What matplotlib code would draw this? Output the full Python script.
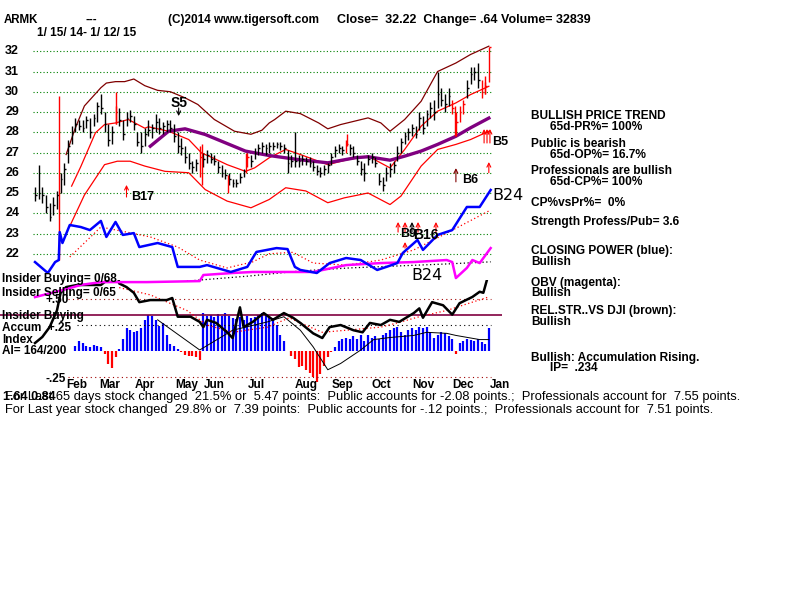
import numpy as np
import matplotlib.pyplot as plt

# ARMK daily chart 1/15/14 - 1/12/15, one bar every 2 trading days
bar_high = [25.3, 26.4, 25.3, 24.9, 24.5, 24.8, 25.1, 26.0, 26.5, 27.6,
            28.3, 28.7, 28.6, 28.6, 28.8, 28.7, 28.9, 29.5, 29.9, 29.0,
            28.4, 28.3, 29.3, 29.2, 28.6, 29.0, 29.1, 28.8, 28.0, 28.0,
            28.2, 28.6, 28.4, 28.9, 28.7, 28.5, 28.6, 28.6, 28.4, 28.0,
            27.7, 27.3, 27.0, 26.6, 26.7, 27.3, 27.0, 27.1, 27.0, 26.9,
            26.6, 26.4, 26.2, 26.0, 25.7, 25.7, 26.0, 26.2, 27.0, 26.9,
            27.2, 27.4, 27.5, 27.4, 27.5, 27.5, 27.5, 27.5, 27.4, 27.1,
            26.9, 28.0, 26.9, 26.9, 26.8, 26.8, 26.6, 26.4, 26.3, 26.4,
            26.5, 27.0, 27.3, 27.4, 27.3, 27.6, 27.4, 27.3, 26.9, 26.6,
            26.5, 26.9, 27.0, 26.8, 26.0, 25.8, 26.3, 26.5, 26.6, 27.3,
            27.7, 28.0, 28.2, 28.4, 28.3, 29.0, 28.8, 29.1, 29.5, 29.6,
            31.0, 30.2, 29.9, 30.2, 29.6, 29.0, 29.3, 29.6, 30.6, 31.2,
            31.2, 31.4, 30.6, 30.5, 32.2]
bar_low = [24.6, 24.7, 24.5, 24.0, 23.6, 23.9, 24.2, 25.0, 25.4, 26.5,
           27.4, 28.0, 28.1, 28.0, 28.2, 27.7, 28.3, 28.5, 28.9, 28.0,
           27.3, 27.4, 28.4, 28.3, 27.6, 28.3, 28.5, 28.1, 27.3, 27.0,
           27.3, 27.8, 27.7, 28.0, 27.9, 27.9, 28.0, 28.0, 27.5, 27.0,
           26.9, 26.5, 26.2, 26.0, 26.1, 25.8, 26.3, 26.5, 26.5, 26.4,
           26.0, 25.8, 25.7, 25.4, 25.3, 25.3, 25.5, 25.8, 26.3, 26.3,
           26.7, 26.9, 27.0, 26.9, 27.0, 27.1, 27.2, 27.1, 27.0, 26.0,
           26.3, 26.3, 26.3, 26.4, 26.4, 26.3, 26.1, 25.9, 25.8, 25.9,
           26.0, 26.4, 26.8, 27.0, 26.9, 27.0, 26.9, 26.8, 26.4, 25.9,
           25.6, 26.4, 26.5, 26.3, 25.4, 25.1, 25.6, 25.8, 26.0, 26.6,
           27.0, 27.4, 27.6, 27.8, 27.7, 28.1, 27.9, 28.3, 28.7, 28.6,
           29.2, 29.3, 29.0, 29.3, 28.9, 27.8, 28.5, 28.9, 29.7, 30.4,
           30.6, 30.2, 29.7, 29.9, 30.5]
bar_close = [24.9, 25.0, 24.9, 24.3, 23.8, 24.4, 24.9, 25.7, 26.2, 27.3,
             28.0, 28.4, 28.3, 28.2, 28.6, 28.0, 28.7, 29.3, 29.2, 28.4,
             27.6, 28.0, 29.0, 28.6, 27.9, 28.7, 28.8, 28.4, 27.5, 27.3,
             27.9, 28.1, 28.2, 28.5, 28.2, 28.3, 28.4, 28.2, 27.8, 27.3,
             27.2, 26.8, 26.5, 26.3, 26.5, 26.8, 26.7, 26.9, 26.7, 26.6,
             26.3, 26.0, 25.9, 25.7, 25.5, 25.5, 25.8, 26.1, 26.8, 26.6,
             27.0, 27.2, 27.3, 27.2, 27.3, 27.3, 27.4, 27.3, 27.2, 26.5,
             26.6, 26.6, 26.6, 26.7, 26.6, 26.5, 26.3, 26.1, 26.0, 26.2,
             26.4, 26.8, 27.1, 27.2, 27.1, 27.4, 27.2, 27.0, 26.6, 26.2,
             26.0, 26.7, 26.8, 26.5, 25.6, 25.4, 26.0, 26.2, 26.4, 27.0,
             27.5, 27.8, 28.0, 28.2, 27.9, 28.7, 28.2, 28.9, 29.2, 29.0,
             29.9, 29.6, 29.4, 29.8, 29.2, 28.5, 29.0, 29.4, 30.2, 30.9,
             31.0, 30.6, 30.0, 30.3, 32.2]
red_bars = [22, 45, 58, 85, 114, 115, 116, 117, 122, 123, 124]

# red spike days (trading day, low, high)
spike_day = [13, 44.5, 91.5, 105.5, 115.5, 170.5, 229.5, 246]
spike_low = [21.7, 28.4, 25.4, 25.0, 26.0, 27.3, 27.8, 29.9]
spike_high = [29.8, 30.0, 27.4, 25.9, 27.0, 27.9, 29.3, 30.8]

# bands and moving averages (trading day, price)
upper_day = [17, 22, 27, 33, 36, 39, 44, 49, 54, 60, 67, 74, 82, 89, 98, 109, 118,
             124, 128, 131, 137, 145, 155, 160, 167, 182, 189, 194, 202, 211,
             220, 230, 238, 248]
upper_val = [26.9, 28.2, 29.3, 29.9, 30.2, 30.43, 30.5, 30.5, 30.63, 30.3, 30.07,
             30.0, 29.7, 29.37, 28.63, 28.05, 27.9, 28.1, 28.46, 28.63, 29.04,
             28.92, 28.46, 28.17, 28.38, 28.71, 28.46, 28.05, 28.63, 29.53, 31.0,
             31.42, 31.84, 32.25]
mid_day = [20, 25, 33, 38, 44, 51, 60, 62, 73, 84, 91, 98, 105, 115, 120, 128, 137,
           145, 160, 171, 182, 194, 202, 211, 220, 230, 238, 248]
mid_val = [25.34, 26.3, 27.97, 28.38, 28.46, 28.63, 28.2, 28.27, 28.05, 27.64,
           26.98, 26.7, 26.4, 26.07, 26.24, 26.74, 27.15, 26.9, 26.4, 26.65, 26.82,
           26.24, 27.15, 28.3, 29.04, 29.45, 29.86, 30.27]
lower_day = [19, 27, 38, 45, 52, 60, 71, 84, 93, 105, 118, 128, 137, 148, 160, 169,
             182, 194, 200, 211, 220, 230, 238, 248]
lower_val = [23.36, 24.9, 26.4, 26.57, 26.57, 26.33, 26.07, 26.0, 25.17, 24.6,
             24.27, 24.68, 25.26, 25.1, 24.52, 24.76, 25.0, 24.43, 24.85, 26.33,
             27.15, 27.4, 27.64, 28.05]
ma65_day = [63, 73, 82, 93, 104, 115, 128, 144, 160, 175, 182, 194, 202, 211, 220,
            230, 238, 248]
ma65_val = [27.31, 28.05, 28.17, 27.89, 27.48, 27.07, 26.85, 26.65, 26.49, 26.74,
            26.79, 26.62, 26.82, 27.07, 27.4, 27.8, 28.22, 28.7]

# closing power (blue) and OBV (magenta), drawn on the price scale
cp_day = [0, 7, 11, 13, 13.5, 15, 19, 25, 30, 36, 39, 44, 48, 54, 57, 67, 75, 78,
          90, 94, 107, 116, 121, 132, 138, 142, 145, 154, 161, 170, 178, 187, 192,
          198, 201, 209, 212, 220, 228, 236, 243, 249]
cp_val = [21.59, 21.05, 21.59, 21.69, 23.07, 22.53, 23.42, 23.32, 23.17, 23.62,
          22.83, 23.57, 22.93, 23.02, 22.33, 22.53, 22.33, 21.35, 21.35, 21.44,
          21.10, 21.35, 22.09, 22.28, 22.23, 21.35, 21.2, 21.05, 21.54, 21.79,
          21.69, 21.2, 21.35, 21.54, 22.04, 22.68, 22.19, 22.93, 23.17, 24.31,
          24.31, 25.15]
cp_ma_day = [19, 36, 50, 63, 78, 90, 105, 119, 128, 141, 152, 170, 189, 207, 225, 249]
cp_ma_val = [21.84, 23.32, 23.07, 22.83, 22.33, 21.69, 21.30, 21.6, 22.0, 22.07,
             21.54, 21.44, 21.69, 22.19, 23.02, 24.16]
obv_day = [0, 17, 25, 36, 50, 61, 90, 92, 108, 119, 145, 152, 170, 189, 207, 225,
           228, 230, 236, 239, 243, 249]
obv_val = [19.86, 20.25, 20.46, 20.6, 20.6, 20.6, 20.65, 20.95, 21.05, 21.1, 21.1,
           21.1, 21.44, 21.54, 21.59, 21.69, 21.59, 20.8, 21.3, 21.69, 21.54, 22.28]
obv_ma_day = [83, 117, 145, 172, 199, 226, 249]
obv_ma_val = [20.65, 20.9, 21.15, 21.3, 21.4, 21.5, 21.6]

# accumulation index, one value per bar (nan before it starts)
accum = [np.nan] * 10 + [
    0.0, 0.05, 0.1, 0.08, 0.05, 0.04, 0.06, 0.05, 0.04, -0.03,
    -0.12, -0.16, -0.06, 0.02, 0.12, 0.22, 0.2, 0.18, 0.19, 0.22,
    0.3, 0.35, 0.34, 0.3, 0.24, 0.27, 0.15, 0.07, 0.05, 0.02,
    -0.01, -0.04, -0.05, -0.05, -0.06, -0.09, 0.37, 0.34, 0.35, 0.33,
    0.36, 0.34, 0.37, 0.34, 0.32, 0.31, 0.33, 0.3, 0.34, 0.32,
    0.33, 0.35, 0.37, 0.34, 0.33, 0.32, 0.25, 0.15, 0.1, 0.0,
    -0.05, -0.08, -0.15, -0.14, -0.18, -0.21, -0.25, -0.3, -0.22, -0.14,
    -0.06, -0.01, 0.04, 0.1, 0.12, 0.13, 0.12, 0.14, 0.12, 0.15,
    0.1, 0.15, 0.13, 0.14, 0.12, 0.15, 0.17, 0.2, 0.22, 0.23,
    0.18, 0.15, 0.2, 0.22, 0.2, 0.23, 0.22, 0.23, 0.18, 0.13,
    0.15, 0.18, 0.17, 0.14, 0.12, -0.03, 0.08, 0.1, 0.12, 0.11,
    0.1, 0.12, 0.09, 0.07, 0.22]
acc_ma_day = [67, 90, 108, 127, 136, 145, 152, 160, 167, 178, 185, 194, 207, 214,
              225, 230, 243, 248]
acc_ma_val = [0.3, 0.01, 0.2, 0.28, 0.33, 0.2, 0.04, -0.18, -0.12, 0.01, 0.11,
              0.13, 0.15, 0.18, 0.17, 0.15, 0.11, 0.11]

# relative strength vs DJI (black) and its average
rs_day = [0, 4, 8, 12, 14, 17, 23, 36, 43, 45, 46, 50, 54, 57, 63, 72, 75, 78, 85,
          90, 92, 94, 99, 105, 108, 112, 114, 119, 125, 130, 136, 141, 145, 152,
          157, 161, 167, 174, 179, 183, 189, 194, 199, 207, 210, 212, 217, 223,
          228, 232, 239, 243, 245, 248, 249]
rs_val = [0.077, 0.135, 0.23, 0.39, 0.56, 0.615, 0.635, 0.635, 0.73, 0.78, 0.65,
          0.615, 0.56, 0.47, 0.49, 0.49, 0.51, 0.33, 0.33, 0.28, 0.23, 0.30, 0.27,
          0.18, 0.125, 0.42, 0.23, 0.28, 0.365, 0.30, 0.365, 0.32, 0.27, 0.17,
          0.125, 0.23, 0.25, 0.2, 0.18, 0.27, 0.25, 0.30, 0.28, 0.365, 0.41, 0.32,
          0.47, 0.44, 0.35, 0.46, 0.52, 0.57, 0.56, 0.75, 0.76]
rs_ma_day = [46, 63, 83, 94, 108, 127, 139, 145, 157, 170, 189, 198, 210, 225, 239, 248]
rs_ma_val = [0.61, 0.54, 0.39, 0.25, 0.18, 0.23, 0.32, 0.27, 0.18, 0.2, 0.23, 0.27,
             0.33, 0.39, 0.47, 0.52]

price_grid = [22, 23, 24, 25, 26, 27, 28, 29, 30, 31, 32]
months = ['Feb', 'Mar', 'Apr', 'May', 'Jun', 'Jul', 'Aug', 'Sep', 'Oct', 'Nov', 'Dec', 'Jan']
month_day = [23, 41, 60, 83, 98, 121, 148, 168, 189, 212, 234, 254]

W, H = 800, 600
PX_DAY = 1.83
XLIM = (-35 / PX_DAY, (W - 35) / PX_DAY)
FONT = 'Liberation Sans'

fig = plt.figure(figsize=(8, 6), dpi=100)
fig.patch.set_facecolor('white')


def put(x, y, s, size=8.5, weight='bold', **kw):
    fig.text(x / W, 1 - y / H, s, fontsize=size, fontweight=weight,
             family=FONT, va='center', **kw)


# ---- lower panel: accumulation index + rel. strength
ax2 = fig.add_axes([0, 1 - 400 / H, 1, 120 / H])
ax2.set_xlim(*XLIM)
ax2.set_ylim(-0.471, 0.683)
ax2.axis('off')
ax2.patch.set_alpha(0)

acc = np.array(accum)
acc_days = np.arange(len(acc)) * 2
pos = acc >= 0
ax2.vlines(acc_days[pos], 0, acc[pos], colors='#0000ff', lw=1.6)
ax2.vlines(acc_days[~pos], 0, acc[~pos], colors='#ff0000', lw=1.6)
ax2.hlines(0.35, XLIM[0], 255, colors='#800040', lw=1.2)
ax2.hlines([0.5, -0.25], 18, 249, colors='#a00000', linestyles=(0, (1, 3)), lw=0.8)
ax2.hlines(0.25, 23, 249, colors='k', linestyles=(0, (1, 3)), lw=0.8)
ax2.plot(acc_ma_day, acc_ma_val, color='k', lw=0.7)
ax2.plot(rs_ma_day, rs_ma_val, color='#ff0000', ls=(0, (1, 2)), lw=0.9)
ax2.plot(rs_day, rs_val, color='k', lw=1.8)
for d, m in zip(month_day, months):
    ax2.text(d, -0.327, m, ha='center', va='center', fontsize=8.5,
             fontweight='bold', family=FONT)

# ---- main price panel
ax = fig.add_axes([0, 1 - 300 / H, 1, 260 / H])
ax.set_xlim(*XLIM)
ax.set_ylim(19.716, 32.556)
ax.axis('off')
ax.patch.set_alpha(0)

ax.hlines(price_grid, -1, 249, colors='#008000', linestyles=(0, (1, 2)), lw=0.8)
for p in price_grid:
    ax.text(-12.5, p, str(p), ha='center', va='center', fontsize=9,
            fontweight='bold', family=FONT)

ax.plot(upper_day, upper_val, color='#800000', lw=0.9)
ax.plot(mid_day, mid_val, color='#ff0000', lw=0.9)
ax.plot(lower_day, lower_val, color='#ff0000', lw=0.9)
ax.plot(ma65_day, ma65_val, color='#800080', lw=2.4)

days = np.arange(len(bar_close)) * 2
cols = ['#ff0000' if k in red_bars else 'k' for k in range(len(bar_close))]
ax.vlines(days, bar_low, bar_high, colors=cols, lw=1.0)
ax.hlines(bar_close, days, days + 1.0, colors=cols, lw=1.0)
ax.vlines(spike_day, spike_low, spike_high, colors='#ff0000', lw=1.0)

ax.plot(cp_ma_day, cp_ma_val, color='#ff0000', ls=(0, (1, 2)), lw=0.9)
ax.plot(obv_ma_day, obv_ma_val, color='k', ls=(0, (1, 2)), lw=0.9)
ax.plot(obv_day, obv_val, color='#ff00ff', lw=1.8)
ax.plot(cp_day, cp_val, color='#0000ff', lw=1.8)


def arrow(d, p0, p1, color):
    ax.annotate('', xy=(d, p1), xytext=(d, p0),
                arrowprops=dict(arrowstyle='->', color=color, lw=0.8,
                                shrinkA=0, shrinkB=0, mutation_scale=7))


arrow(78.5, 29.2, 28.8, 'k')
ax.text(78.7, 29.44, 'S5', ha='center', va='center', fontsize=10, fontweight='bold', family=FONT)
arrow(50, 24.8, 25.4, '#ff0000')
ax.text(59, 24.8, 'B17', ha='center', va='center', fontsize=9, fontweight='bold', family=FONT)
arrow(230, 25.55, 26.23, '#800000')
ax.text(238, 25.64, 'B6', ha='center', va='center', fontsize=9, fontweight='bold', family=FONT)
for d in [245.4, 247, 248.6]:
    arrow(d, 27.47, 28.16, '#ff0000')
arrow(248, 26.0, 26.53, '#ff0000')
ax.text(254, 27.52, 'B5', ha='center', va='center', fontsize=9, fontweight='heavy', family=FONT)
for d in [198.4, 202.2, 209.3, 219.1]:
    arrow(d, 23.07, 23.57, '#ff0000')
arrow(206, 23.07, 23.57, 'k')
arrow(202.2, 22.28, 22.58, '#ff0000')
ax.text(204, 22.98, 'B9', ha='center', va='center', fontsize=9, fontweight='bold', family=FONT)
ax.text(213.7, 22.93, 'B16', ha='center', va='center', fontsize=10, fontweight='bold', family=FONT)
ax.text(258.5, 24.9, 'B24', ha='center', va='center', fontsize=11.5, family='DejaVu Sans')
ax.text(214, 20.95, 'B24', ha='center', va='center', fontsize=11.5, family='DejaVu Sans')

# ---- header
put(4, 20, 'ARMK', size=8.3)
put(85, 20, '---', size=8.3)
put(168, 20, '(C)2014 www.tigersoft.com', size=8.5)
put(337, 20, 'Close=  32.22  Change= .64 Volume= 32839', size=9)
put(37, 33, '1/ 15/ 14- 1/ 12/ 15', size=8.5)

# ---- right side summary
right = [(531, 116, 'BULLISH PRICE TREND'), (550, 127, '65d-PR%= 100%'),
         (531, 144, 'Public is bearish'), (550, 155, '65d-OP%= 16.7%'),
         (531, 171, 'Professionals are bullish'), (550, 182, '65d-CP%= 100%'),
         (531, 203, 'CP%vsPr%=  0%'), (531, 222, 'Strength Profess/Pub= 3.6'),
         (531, 251, 'CLOSING POWER (blue):'), (531, 262, 'Bullish'),
         (531, 283, 'OBV (magenta):'), (531, 293, 'Bullish'),
         (531, 311, 'REL.STR..VS DJI (brown):'), (531, 322, 'Bullish'),
         (531, 358, 'Bullish: Accumulation Rising.'), (550, 368, 'IP=  .234')]
for x, y, s in right:
    put(x, y, s, size=8.6)

# ---- left labels of lower panel
put(2, 279, 'Insider Buying= 0/68')
put(2, 293, 'Insider Selling= 0/65')
put(46, 300, '+.50')
put(2, 316, 'Insider Buying')
put(2, 328, 'Accum  +.25')
put(2, 340, 'Index')
put(2, 351, 'AI= 164/200')
put(45, 379, '-.25')

# ---- bottom lines
put(5, 397, 'For Last 65 days stock changed  21.5% or  5.47 points:  Public accounts for -2.08 points.;  '
    'Professionals account for  7.55 points.', size=9.25, weight='normal')
put(3, 397, '1.64 0.84', size=9, weight='bold')
put(5, 410, 'For Last year stock changed  29.8% or  7.39 points:  Public accounts for -.12 points.;  '
    'Professionals account for  7.51 points.', size=9.25, weight='normal')

fig.savefig('out.png', dpi=100, facecolor='white')
